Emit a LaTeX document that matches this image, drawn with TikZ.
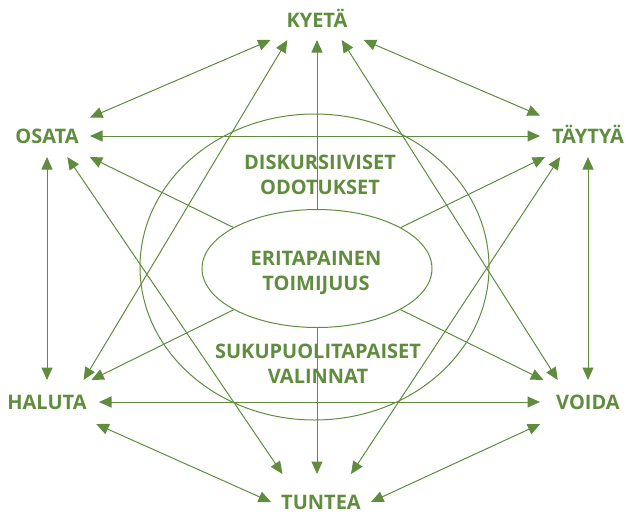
\documentclass[tikz,border=0pt]{standalone}
\usepackage{fontspec}
\setmainfont{Open Sans}
\usetikzlibrary{shapes.geometric,arrows.meta,positioning}
\definecolor{leafgreen}{RGB}{96,140,62}

\begin{document}
\begin{tikzpicture}[
    x=1pt, y=-1pt,
    % --- STYLES ---
    term/.style={
        rectangle, draw=none,
        text=leafgreen, font=\fontsize{20}{25}\selectfont\bfseries,
        text height=14.3pt, text depth=0pt,
        inner sep=0pt, outer sep=0pt
    },
    theme/.style={
        text=leafgreen, font=\fontsize{20}{25}\selectfont\bfseries,
        align=center, inner sep=0pt
    },
    ring/.style={ellipse, draw=leafgreen, line width=1pt, inner sep=0pt},
    link/.style={<->, >={Triangle[length=12.5pt,width=11pt]},
        draw=leafgreen, line width=1pt},
    flow/.style={->, >={Triangle[length=12.5pt,width=11pt]},
        draw=leafgreen, line width=1pt}
]

% ===== 1. COORDINATES & FRAME =====
\def\xLeft{47}
\def\xMid{317}
\def\xRight{588}

\useasboundingbox (0,0) rectangle (626,515);

% ===== 2. RINGS & INNER LABELS =====
\node[ring, minimum width=349pt, minimum height=306pt] (outer) at (314.5,267) {};
\node[ring, minimum width=230pt, minimum height=118pt] (inner) at (\xMid,268.5) {};

\node[theme] (odotukset) at (320,174.5) {DISKURSIIVISET\\ODOTUKSET};
\node[theme] (toimijuus) at (316,272.5) {ERITAPAINEN\\TOIMIJUUS};
\node[theme] (valinnat) at (318,364) {SUKUPUOLITAPAISET\\VALINNAT};

% ===== 3. VERBS =====
\node[term, minimum width=112pt, minimum height=40pt] (kyeta) at (\xMid,20) {KYETÄ};
\node[term, minimum width=86pt, minimum height=42pt] (osata) at (\xLeft,136) {OSATA};
\node[term, minimum width=96pt, minimum height=42pt] (taytya) at (\xRight,136) {TÄYTYÄ};
\node[term, minimum width=104pt, minimum height=44pt] (haluta) at (\xLeft,402) {HALUTA};
\node[term, minimum width=96pt, minimum height=44pt] (voida) at (\xRight,402) {VOIDA};
\node[term, minimum width=100pt, minimum height=56pt] (tuntea) at (321,502) {TUNTEA};

% ===== 4. CONNECTIONS =====

% -- from the core --
\draw[flow] (inner) -- (kyeta);
\draw[flow] (inner) -- (inner |- tuntea.north);
\draw[flow] (inner) -- (osata);
\draw[flow] (inner) -- (taytya);
\draw[flow] (inner) -- (haluta);
\draw[flow] (inner) -- (voida);

% -- around the ring --
\draw[link] (osata) -- (kyeta);
\draw[link] (kyeta) -- (taytya);
\draw[link] (osata) -- (taytya);
\draw[link] (osata) -- (haluta);
\draw[link] (taytya) -- (voida);
\draw[link] (haluta) -- (voida);
\draw[link] (haluta) -- (tuntea.west);
\draw[link] (voida) -- (tuntea.east);

% -- across --
\draw[link] (haluta.31) -- (kyeta.214);
\draw[link] (voida.144) -- (kyeta.321);
\draw[link] (osata.-46) -- (tuntea.144);
\draw[link] (taytya.217) -- (tuntea.43);

\end{tikzpicture}
\end{document}
